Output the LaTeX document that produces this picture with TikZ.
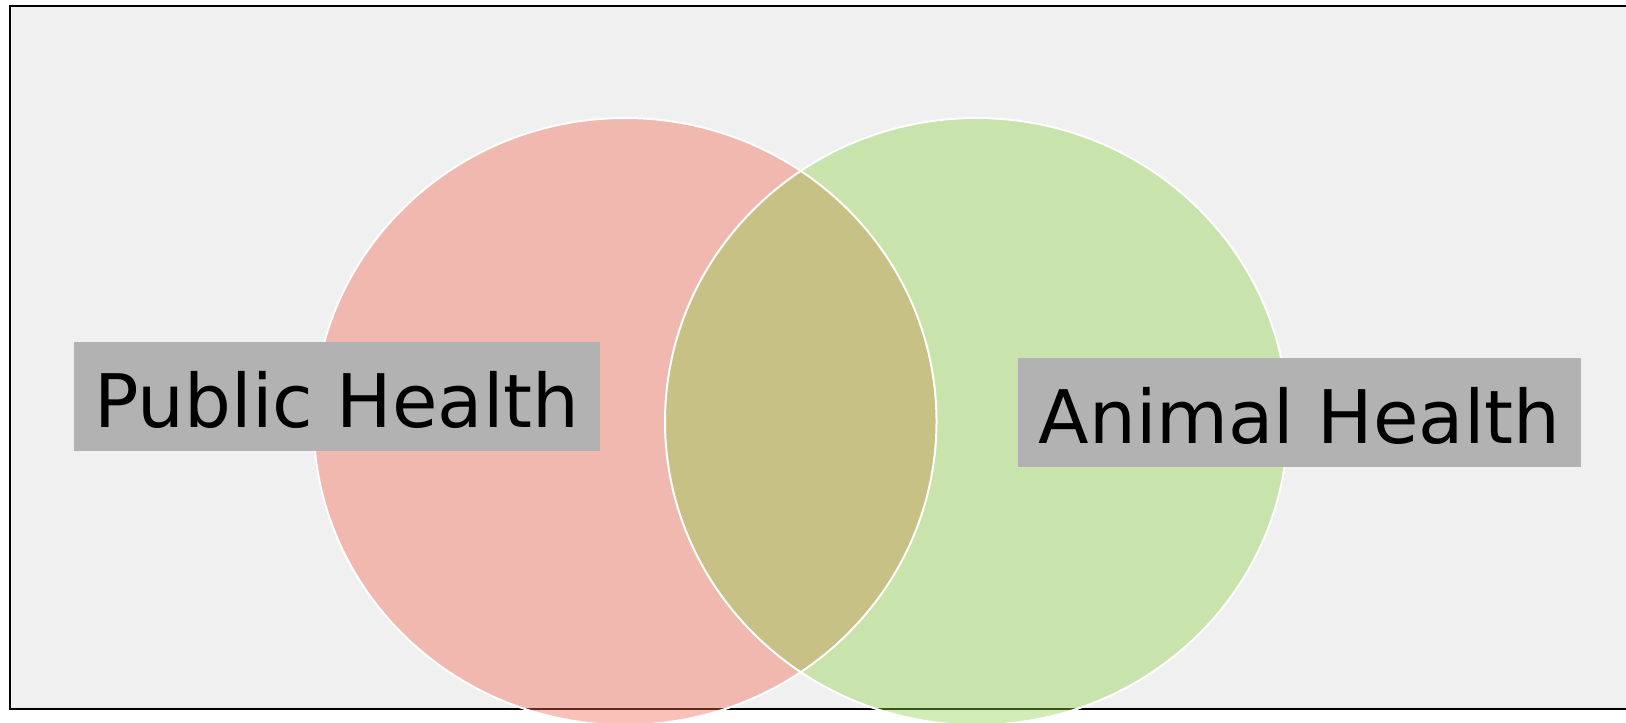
\documentclass[tikz,border=0pt]{standalone}
\usepackage{fontspec}
\setmainfont{DejaVu Sans}
\usetikzlibrary{shapes.geometric}
\definecolor{bgpanel}{RGB}{240,240,240}
\definecolor{labelgray}{RGB}{178,178,178}
\definecolor{setred}{RGB}{240,100,75}
\definecolor{setgreen}{RGB}{140,208,72}
\tikzset{
  setshape/.style={ellipse, inner sep=0pt, minimum width=467.25pt, minimum height=455.25pt, fill opacity=0.4, draw=none},
  setline/.style={draw=white, line width=1.5pt},
  labelbox/.style={rectangle, fill=labelgray, inner sep=0pt, text height=46pt, text depth=0pt,
    font=\fontsize{55.4}{60}\selectfont, text=black, minimum height=81.6pt}
}
\begin{document}
\begin{tikzpicture}[x=0.75pt, y=-0.75pt]
\clip (0,0) rectangle (1626,723);
\fill[white] (0,0) rectangle (1626,723);
\draw[fill=bgpanel, line width=1.5pt] (10,6) rectangle (1650,709);
\node[setshape, fill=setred] (red) at (625,421.5) {};
\node[setshape, fill=setgreen] (green) at (976.5,421.5) {};
\draw[setline] (red.center) ellipse [x radius=233.625pt, y radius=227.625pt];
\draw[setline] (green.center) ellipse [x radius=233.625pt, y radius=227.625pt];
\node[labelbox, minimum width=394.5pt] (public) at (337,396.4) {Public Health};
\node[labelbox, minimum width=422.25pt] (animal) at (1299.5,412.5) {Animal Health};
\end{tikzpicture}
\end{document}
